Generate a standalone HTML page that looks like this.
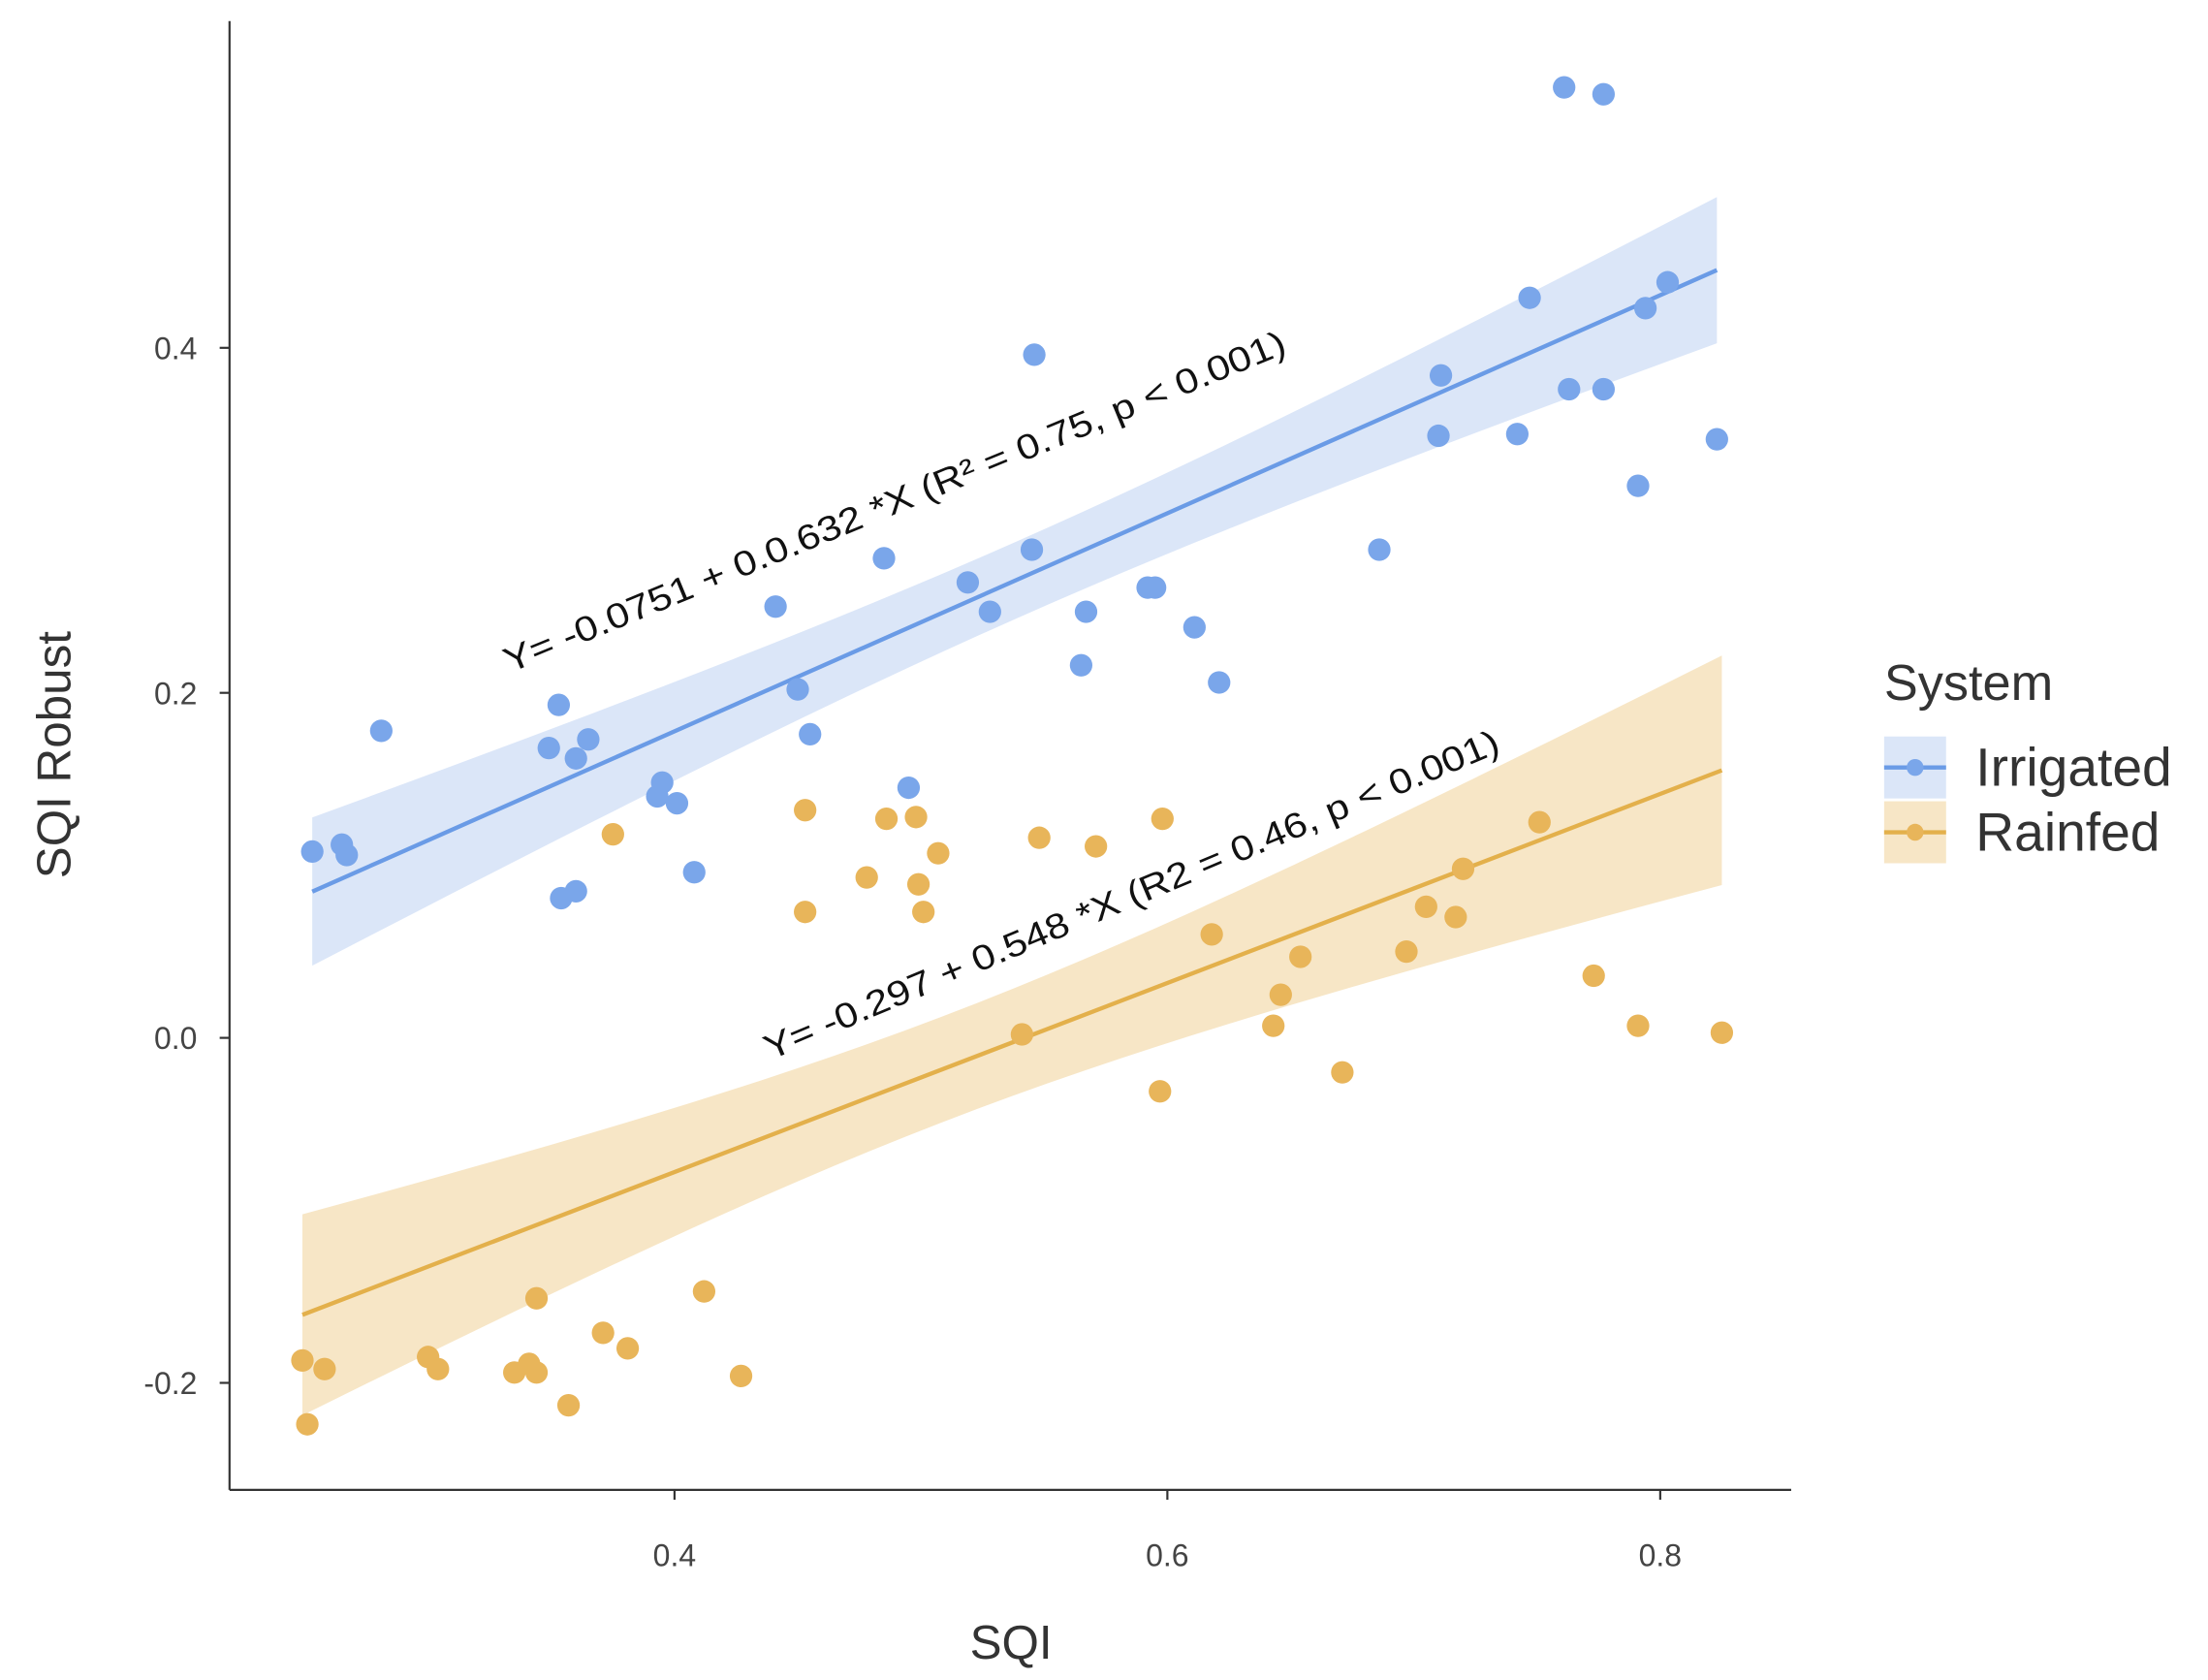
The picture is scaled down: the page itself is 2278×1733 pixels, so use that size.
<!DOCTYPE html>
<html><head><meta charset="utf-8"><style>
html,body{margin:0;padding:0;background:#fff;}
svg{display:block;font-family:"Liberation Sans",Arial,sans-serif;}
</style></head><body>
<svg id="chart" width="2278" height="1733" viewBox="0 0 1568 1193" preserveAspectRatio="none" xmlns="http://www.w3.org/2000/svg">
<g id="bands"></g><g id="lines"></g><g id="points"></g>
<g id="axes"></g>
<text x="0" y="0" font-size="25" fill="#111" textLength="598" lengthAdjust="spacingAndGlyphs" transform="translate(362,478) rotate(-22.4)">Y= -0.0751 + 0.0.632 *X (R² = 0.75, p &lt; 0.001)</text>
<text x="0" y="0" font-size="25" fill="#111" textLength="564" lengthAdjust="spacingAndGlyphs" transform="translate(547,753) rotate(-22.9)">Y= -0.297 + 0.548 *X (R2 = 0.46, p &lt; 0.001)</text>
<text x="718" y="1178" font-size="34" fill="#333" text-anchor="middle">SQI</text>
<text x="0" y="0" font-size="34" fill="#333" text-anchor="middle" transform="translate(50,536) rotate(-90)">SQI Robust</text>
<g>
<text x="1338" y="497" font-size="36" fill="#333">System</text>
<g>
<rect x="1338" y="523" width="44" height="44" fill="#dbe6f8"/>
<line x1="1338" y1="545" x2="1382" y2="545" stroke="#6a9be6" stroke-width="3"/>
<circle cx="1360" cy="545" r="6" fill="#7aa6ea"/>
<text x="1403" y="558" font-size="38" fill="#333">Irrigated</text></g>
<g>
<rect x="1338" y="569" width="44" height="44" fill="#f7e6c6"/>
<line x1="1338" y1="591" x2="1382" y2="591" stroke="#e3b04b" stroke-width="3"/>
<circle cx="1360" cy="591" r="6" fill="#e8b55a"/>
<text x="1403" y="604" font-size="38" fill="#333">Rainfed</text></g>
</g>
</svg>
<script>
const irrX=[0.253,0.265,0.267,0.281,0.349,0.353,0.354,0.360,0.360,0.365,0.393,0.395,0.401,0.408,0.441,0.450,0.455,0.485,0.495,0.519,0.528,0.545,0.546,0.565,0.567,0.592,0.595,0.611,0.621,0.686,0.710,0.711,0.742,0.747,0.761,0.763,0.777,0.777,0.791,0.794,0.803,0.823];
const irrY=[0.108,0.112,0.106,0.178,0.168,0.193,0.081,0.162,0.085,0.173,0.140,0.148,0.136,0.096,0.250,0.202,0.176,0.278,0.145,0.264,0.247,0.283,0.396,0.216,0.247,0.261,0.261,0.238,0.206,0.283,0.349,0.384,0.350,0.429,0.551,0.376,0.547,0.376,0.320,0.423,0.438,0.347];
const rainX=[0.249,0.251,0.258,0.300,0.304,0.335,0.341,0.344,0.344,0.357,0.371,0.381,0.375,0.412,0.427,0.453,0.453,0.478,0.486,0.498,0.499,0.501,0.507,0.541,0.548,0.571,0.597,0.598,0.618,0.643,0.646,0.654,0.671,0.697,0.705,0.717,0.720,0.751,0.773,0.791,0.825];
const rainY=[-0.187,-0.224,-0.192,-0.185,-0.192,-0.194,-0.189,-0.194,-0.151,-0.213,-0.171,-0.180,0.118,-0.147,-0.196,0.132,0.073,0.093,0.127,0.128,0.089,0.073,0.107,0.002,0.116,0.111,-0.031,0.127,0.060,0.007,0.025,0.047,-0.020,0.050,0.076,0.070,0.098,0.125,0.036,0.007,0.003];
const irrCoef=[-0.0751,0.632];
const rainCoef=[-0.297,0.548];
const xTicks=[0.4,0.6,0.8];
const yTicks=[0.4,0.2,0.0,-0.2];
const NS="http://www.w3.org/2000/svg";
const sx=v=>479+(v-0.4)*1750;
const sy=v=>737-v*1225;
function mk(tag,attrs,parent){const e=document.createElementNS(NS,tag);for(const k in attrs)e.setAttribute(k,attrs[k]);parent.appendChild(e);return e;}
const axes=document.getElementById('axes');
mk('line',{x1:163,y1:15,x2:163,y2:1058,stroke:'#333','stroke-width':1.5},axes);
mk('line',{x1:163,y1:1058,x2:1272,y2:1058,stroke:'#333','stroke-width':1.5},axes);
xTicks.forEach(t=>{mk('line',{x1:sx(t),y1:1058,x2:sx(t),y2:1065,stroke:'#333','stroke-width':1.5},axes);
 const tx=mk('text',{x:sx(t),y:1112,'font-size':22,fill:'#444','text-anchor':'middle'},axes);
 
 
 tx.textContent=t.toFixed(1);});
yTicks.forEach(t=>{mk('line',{x1:156,y1:sy(t),x2:163,y2:sy(t),stroke:'#333','stroke-width':1.5},axes);
 const tx=mk('text',{x:140,y:sy(t)+8,'font-size':22,fill:'#444','text-anchor':'end'},axes);
 
 
 tx.textContent=t.toFixed(1);});
function stats(X,Y,a,b){const n=X.length;const mx=X.reduce((p,q)=>p+q)/n;let sxx=0,sse=0;for(let i=0;i<n;i++){sxx+=(X[i]-mx)**2;sse+=(Y[i]-a-b*X[i])**2;}return{mx,sxx,s:Math.sqrt(sse/(n-2)),n};}
function series(X,Y,coef,tmul,band,line,pt,name){
 const a=coef[0],b=coef[1];const f=stats(X,Y,a,b);const x0=Math.min(...X),x1=Math.max(...X);
 const up=[],lo=[];for(let k=0;k<=40;k++){const x=x0+(x1-x0)*k/40;const h=tmul*f.s*Math.sqrt(1/f.n+(x-f.mx)**2/f.sxx);const y=a+b*x;up.push(sx(x)+','+sy(y+h));lo.unshift(sx(x)+','+sy(y-h));}
 const p=mk('polygon',{points:up.concat(lo).join(' '),fill:band},document.getElementById('bands'));
 
 
 const l=mk('line',{x1:sx(x0),y1:sy(a+b*x0),x2:sx(x1),y2:sy(a+b*x1),stroke:line,'stroke-width':3},document.getElementById('lines'));
 
 
 X.forEach((x,i)=>{const c=mk('circle',{cx:sx(x),cy:sy(Y[i]),r:8,fill:pt},document.getElementById('points'));
  
  });
}
series(irrX,irrY,irrCoef,2.3,'#dbe6f8','#6a9be6','#7aa6ea','irrigated');
series(rainX,rainY,rainCoef,2.0,'#f7e6c6','#e3b04b','#e8b55a','rainfed');
</script>
</body></html>
